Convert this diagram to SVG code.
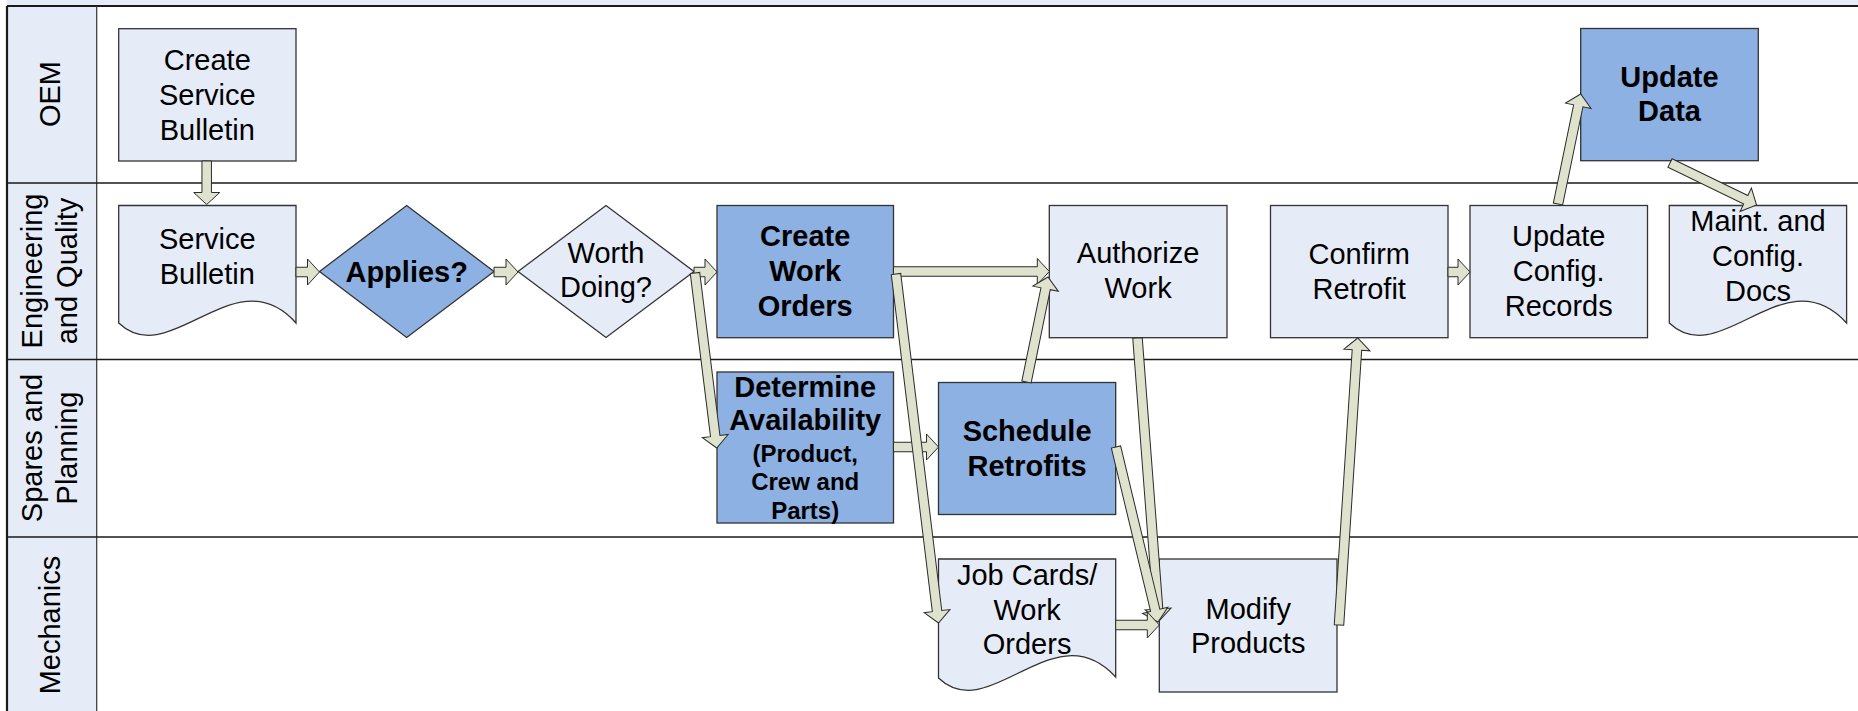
<svg xmlns="http://www.w3.org/2000/svg" width="1858" height="711" viewBox="0 0 1858 711">
<style>
.lane{fill:#e6ecf7}
.ln{stroke:#1a1a1a;stroke-width:1.5;fill:none}
.lt{stroke:#1a1a1a;stroke-width:2.2;fill:none}
.bx{fill:#e6ecf7;stroke:#333;stroke-width:1.3}
.bd{fill:#8db1e2;stroke:#333;stroke-width:1.3}
.arr{fill:#dfe3cd;stroke:#2b2b2b;stroke-width:1}
text{font-family:"Liberation Sans",Arial,sans-serif;font-size:29px;fill:#000;text-anchor:middle}
.b{font-weight:bold}
.s{font-size:24px;font-weight:bold}
</style>
<rect x="0" y="0" width="1858" height="711" fill="#fff"/>
<g id="lanes">
<rect class="lane" x="7" y="0" width="1851" height="6"/>
<rect class="lane" x="7" y="6" width="89.7" height="705"/>
<line class="lt" x1="7" y1="6" x2="1858" y2="6"/>
<line class="lt" x1="7" y1="6" x2="7" y2="711"/>
<line x1="96.7" y1="6" x2="96.7" y2="711" stroke="#333" stroke-width="1.2"/>
<line class="ln" x1="7" y1="183" x2="1858" y2="183"/>
<line class="ln" x1="7" y1="359.5" x2="1858" y2="359.5"/>
<line class="ln" x1="7" y1="537" x2="1858" y2="537"/>
<text transform="translate(60,94) rotate(-90)">OEM</text>
<text transform="translate(42,271) rotate(-90)">Engineering</text>
<text transform="translate(77,271) rotate(-90)">and Quality</text>
<text transform="translate(42,448) rotate(-90)">Spares and</text>
<text transform="translate(77,448) rotate(-90)">Planning</text>
<text transform="translate(60,625) rotate(-90)">Mechanics</text>
</g>
<g id="create-service-bulletin">
<rect class="bx" x="118.7" y="28.7" width="177.3" height="132.3"/>
<text x="207.3" y="69.5">Create</text>
<text x="207.3" y="104.5">Service</text>
<text x="207.3" y="139.5">Bulletin</text>
</g>
<g id="service-bulletin">
<path class="bx" d="M118.7,205.5 H296 V323 C235,255 170,372 118.7,323 Z"/>
<text x="207.3" y="248.5">Service</text>
<text x="207.3" y="283.5">Bulletin</text>
</g>
<g id="applies">
<path class="bd" d="M319.5,271.5 L406.7,205.5 L494,271.5 L406.7,337.5 Z"/>
<text class="b" x="406.7" y="281.5">Applies?</text>
</g>
<g id="worth-doing">
<path class="bx" d="M518,271.5 L606,205.5 L694,271.5 L606,337.5 Z"/>
<text x="606" y="263">Worth</text>
<text x="606" y="297">Doing?</text>
</g>
<g id="create-work-orders">
<rect class="bd" x="717" y="205.5" width="176.5" height="132.2"/>
<text class="b" x="805.2" y="245.5">Create</text>
<text class="b" x="805.2" y="280.5">Work</text>
<text class="b" x="805.2" y="315.5">Orders</text>
</g>
<g id="determine-availability">
<rect class="bd" x="717" y="372" width="176.5" height="151"/>
<text class="b" x="805.2" y="396.5">Determine</text>
<text class="b" x="805.2" y="430">Availability</text>
<text class="s" x="805.2" y="462">(Product,</text>
<text class="s" x="805.2" y="490">Crew and</text>
<text class="s" x="805.2" y="518.5">Parts)</text>
</g>
<g id="schedule-retrofits">
<rect class="bd" x="938.5" y="382.5" width="177.2" height="132"/>
<text class="b" x="1027.1" y="440.5">Schedule</text>
<text class="b" x="1027.1" y="475.5">Retrofits</text>
</g>
<g id="authorize-work">
<rect class="bx" x="1049.3" y="205.5" width="177.7" height="132.2"/>
<text x="1138.1" y="263">Authorize</text>
<text x="1138.1" y="297.5">Work</text>
</g>
<g id="job-cards">
<path class="bx" d="M938.5,559 H1115.7 V677 C1053.7,610 989.8,727 938.5,678 Z"/>
<text x="1027.1" y="584.5">Job Cards/</text>
<text x="1027.1" y="619.5">Work</text>
<text x="1027.1" y="654">Orders</text>
</g>
<g id="modify-products">
<rect class="bx" x="1159.3" y="559" width="177.7" height="133"/>
<text x="1248.2" y="618.5">Modify</text>
<text x="1248.2" y="652.5">Products</text>
</g>
<g id="confirm-retrofit">
<rect class="bx" x="1270.5" y="205.5" width="177.5" height="132.2"/>
<text x="1359.2" y="263.5">Confirm</text>
<text x="1359.2" y="298.5">Retrofit</text>
</g>
<g id="update-config-records">
<rect class="bx" x="1470" y="205.5" width="177.5" height="132.2"/>
<text x="1558.7" y="245.5">Update</text>
<text x="1558.7" y="280.5">Config.</text>
<text x="1558.7" y="315.5">Records</text>
</g>
<g id="update-data">
<rect class="bd" x="1580.7" y="28.5" width="177.6" height="132.2"/>
<text class="b" x="1669.5" y="86.5">Update</text>
<text class="b" x="1669.5" y="121">Data</text>
</g>
<g id="maint-config-docs">
<path class="bx" d="M1669.3,205.5 H1846.6 V323 C1784.5,255 1720.6,372 1669.3,323 Z"/>
<text x="1758" y="230.5">Maint. and</text>
<text x="1758" y="265.5">Config.</text>
<text x="1758" y="300.5">Docs</text>
</g>
<g id="connectors">
<path class="arr" transform="translate(206.7,161) rotate(90)" d="M0,-4.75 H31.5 V-13 L43.5,0 L31.5,13 V4.75 H0 Z"/>
<path class="arr" transform="translate(296,272)" d="M0,-4.75 H11.5 V-13 L23.5,0 L11.5,13 V4.75 H0 Z"/>
<path class="arr" transform="translate(494,272)" d="M0,-4.75 H12 V-13 L24,0 L12,13 V4.75 H0 Z"/>
<path class="arr" transform="translate(694,272)" d="M0,-4.75 H11 V-13 L23,0 L11,13 V4.75 H0 Z"/>
<path class="arr" transform="translate(695,273) rotate(82.93)" d="M0,-4.75 H164.3 V-13 L176.3,0 L164.3,13 V4.75 H0 Z"/>
<path class="arr" transform="translate(893.5,271.5)" d="M0,-4.75 H143.8 V-13 L155.8,0 L143.8,13 V4.75 H0 Z"/>
<path class="arr" transform="translate(893.5,447)" d="M0,-4.75 H33 V-13 L45,0 L33,13 V4.75 H0 Z"/>
<path class="arr" transform="translate(896,274) rotate(83.06)" d="M0,-4.75 H339.6 V-13 L351.6,0 L339.6,13 V4.75 H0 Z"/>
<path class="arr" transform="translate(1026.5,382) rotate(-78.43)" d="M0,-4.75 H95.2 V-13 L107.2,0 L95.2,13 V4.75 H0 Z"/>
<path class="arr" transform="translate(1137.5,338) rotate(85.66)" d="M0,-4.75 H271.8 V-13 L283.8,0 L271.8,13 V4.75 H0 Z"/>
<path class="arr" transform="translate(1116,447) rotate(76.5)" d="M0,-4.75 H168 V-13 L180,0 L168,13 V4.75 H0 Z"/>
<path class="arr" transform="translate(1115.7,625)" d="M0,-4.75 H31.6 V-13 L43.6,0 L31.6,13 V4.75 H0 Z"/>
<path class="arr" transform="translate(1339,625) rotate(-86.27)" d="M0,-4.75 H275.6 V-13 L287.6,0 L275.6,13 V4.75 H0 Z"/>
<path class="arr" transform="translate(1448,272)" d="M0,-4.75 H10 V-13 L22,0 L10,13 V4.75 H0 Z"/>
<path class="arr" transform="translate(1558,204) rotate(-78.34)" d="M0,-4.75 H100.3 V-13 L112.3,0 L100.3,13 V4.75 H0 Z"/>
<path class="arr" transform="translate(1670,163) rotate(25.9)" d="M0,-4.75 H84.2 V-13 L96.2,0 L84.2,13 V4.75 H0 Z"/>
</g>
</svg>
